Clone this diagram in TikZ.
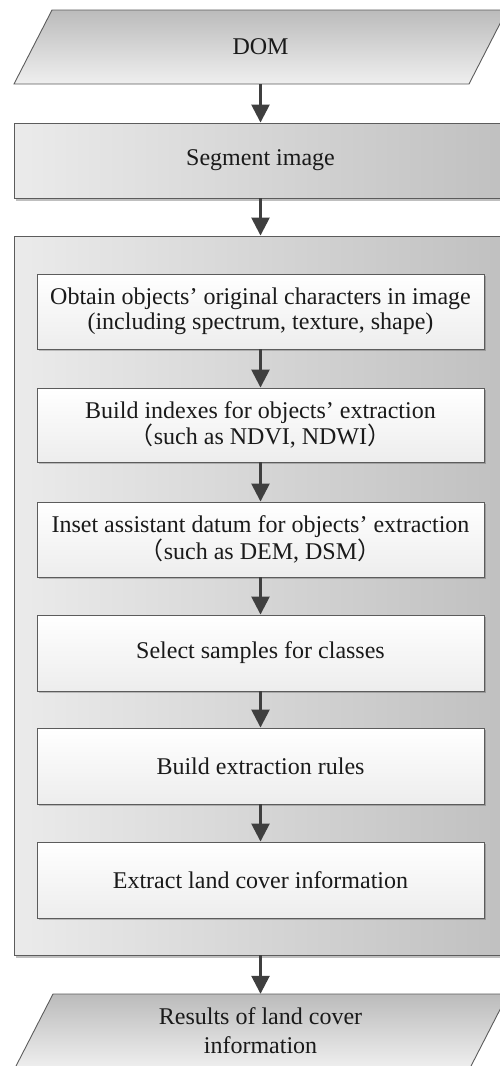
\documentclass[tikz,border=0pt]{standalone}
\usepackage{fontspec}
\setmainfont{Liberation Serif}
\newfontfamily\cjk{Noto Sans CJK SC}
\usetikzlibrary{arrows.meta,shadows}
\definecolor{edge}{HTML}{5C5C5C}
\definecolor{arr}{HTML}{3F3F3F}
\definecolor{txt}{HTML}{1A1A1A}
\definecolor{lightL}{HTML}{EBEBEB}
\definecolor{darkR}{HTML}{C0C0C0}
\definecolor{parT}{HTML}{BBBBBB}
\definecolor{parB}{HTML}{EFEFEF}
\definecolor{innB}{HTML}{EDEDED}
\newcommand{\lp}{{\cjk （}}
\newcommand{\rp}{{\cjk ）}}
\tikzset{
  base/.style={font=\fontsize{24}{25}\selectfont, text=txt, align=center, inner sep=0pt},
  graybox/.style={base, draw=edge, line width=0.9pt, left color=lightL, right color=darkR,
    drop shadow={shadow xshift=1.5pt, shadow yshift=-3pt, opacity=0.25, fill=black}},
  innerbox/.style={base, draw=edge, line width=0.9pt, top color=white, bottom color=innB,
    minimum width=447pt, minimum height=75pt,
    drop shadow={shadow xshift=1.5pt, shadow yshift=-2pt, opacity=0.2, fill=black}},
  parbox/.style={draw=edge, line width=0.9pt, top color=parT, bottom color=parB},
  flow/.style={draw=arr, line width=2.6pt, -{Triangle[length=18pt,width=18pt]}},
}
\begin{document}
\begin{tikzpicture}[x=1pt,y=-1pt]
\useasboundingbox (0,0) rectangle (500,1066);
\clip (0,0) rectangle (500,1066);
% input
\shade[parbox] (52,10) -- (507,10) -- (469,84) -- (14,84) -- cycle;
\node[base, minimum width=400pt, minimum height=74pt] (dom) at (260.5,47) {DOM};
% segment
\node[graybox, minimum width=493pt, minimum height=75pt] (seg) at (260.5,160.5) {Segment image};
% outer container
\node[graybox, minimum width=493pt, minimum height=719pt] (outer) at (260.5,595.5) {};
% inner steps
\node[innerbox] (b1) at (260.5,311.5) {Obtain objects' original characters in image\\(including spectrum, texture, shape)};
\node[innerbox, minimum height=74pt] (b2) at (260.5,425) {Build indexes for objects' extraction\\\lp such as NDVI, NDWI\rp};
\node[innerbox] (b3) at (260.5,539.5) {Inset assistant datum for objects' extraction\\\lp such as DEM, DSM\rp};
\node[innerbox, minimum height=76pt] (b4) at (260.5,653) {Select samples for classes};
\node[innerbox, minimum height=76pt] (b5) at (260.5,766) {Build extraction rules};
\node[innerbox, minimum height=76pt] (b6) at (260.5,880) {Extract land cover information};
% output
\shade[parbox] (53,994) -- (508,994) -- (470,1068) -- (15,1068) -- cycle;
\node[base, font=\fontsize{24}{29}\selectfont, minimum width=400pt, minimum height=74pt] (res) at (260.5,1031) {Results of land cover\\information};
% connectors
\draw[flow] (dom.south) -- (seg.north);
\draw[flow] (seg.south) -- (outer.north);
\draw[flow] (b1.south) -- (b2.north);
\draw[flow] (b2.south) -- (b3.north);
\draw[flow] (b3.south) -- (b4.north);
\draw[flow] (b4.south) -- (b5.north);
\draw[flow] (b5.south) -- (b6.north);
\draw[flow] (outer.south) -- (res.north);
\end{tikzpicture}
\end{document}
